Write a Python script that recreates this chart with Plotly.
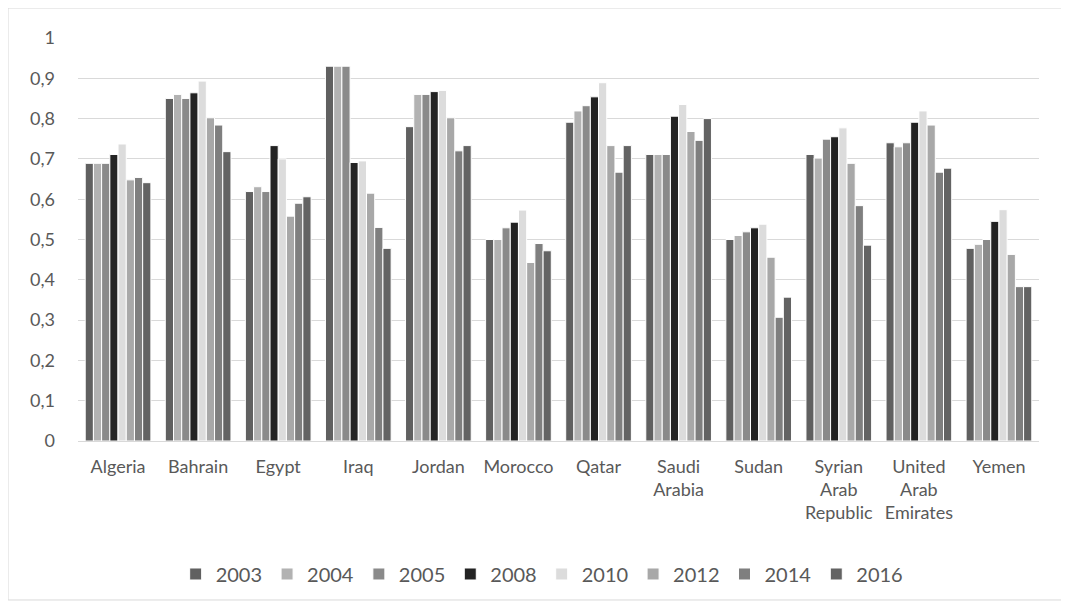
import plotly.graph_objects as go

countries = ["Algeria", "Bahrain", "Egypt", "Iraq", "Jordan", "Morocco", "Qatar",
             "Saudi<br>Arabia", "Sudan", "Syrian<br>Arab<br>Republic",
             "United<br>Arab<br>Emirates", "Yemen"]
years = ["2003", "2004", "2005", "2008", "2010", "2012", "2014", "2016"]

v2003 = [0.689, 0.850, 0.619, 0.930, 0.780, 0.500, 0.791, 0.711, 0.500, 0.711, 0.740, 0.478]
v2004 = [0.689, 0.860, 0.631, 0.930, 0.860, 0.500, 0.819, 0.711, 0.510, 0.702, 0.730, 0.488]
v2005 = [0.689, 0.850, 0.619, 0.930, 0.860, 0.529, 0.832, 0.711, 0.519, 0.749, 0.740, 0.500]
v2008 = [0.711, 0.864, 0.733, 0.691, 0.867, 0.543, 0.854, 0.806, 0.529, 0.755, 0.791, 0.545]
v2010 = [0.737, 0.893, 0.700, 0.695, 0.870, 0.573, 0.889, 0.835, 0.538, 0.777, 0.819, 0.574]
v2012 = [0.648, 0.802, 0.558, 0.615, 0.802, 0.443, 0.733, 0.768, 0.456, 0.689, 0.784, 0.463]
v2014 = [0.654, 0.784, 0.590, 0.530, 0.720, 0.490, 0.667, 0.746, 0.307, 0.584, 0.667, 0.383]
v2016 = [0.641, 0.718, 0.606, 0.478, 0.733, 0.472, 0.733, 0.800, 0.357, 0.486, 0.677, 0.383]

series = [v2003, v2004, v2005, v2008, v2010, v2012, v2014, v2016]
colors = ["#606060", "#B2B2B2", "#8A8A8A", "#232323", "#DCDCDC", "#A8A8A8", "#7F7F7F", "#636363"]

fig = go.Figure()
for name, vals, col in zip(years, series, colors):
    fig.add_trace(go.Bar(x=countries, y=vals, name=name,
                         marker=dict(color=col, line=dict(color="white", width=1))))

font = "Lato, 'Open Sans', sans-serif"
fig.update_layout(
    width=1069, height=609,
    paper_bgcolor="white", plot_bgcolor="white",
    margin=dict(l=70, r=38, t=30, b=176),
    separators=", ",
    barmode="group", bargap=0.18, bargroupgap=0.0,
    font=dict(family=font, size=18, color="#595959"),
    showlegend=True,
    legend=dict(orientation="h", x=0.483, xanchor="center", y=-0.330, yanchor="middle",
                font=dict(size=20, color="#595959"), itemwidth=30, traceorder="normal"),
    xaxis=dict(showgrid=False, showline=True, linecolor="#D9D9D9", linewidth=1,
               ticks="", ticklabelstandoff=9, tickfont=dict(size=18, color="#595959")),
    yaxis=dict(range=[0, 1], dtick=0.1, showgrid=True, gridcolor="#D9D9D9", gridwidth=1,
               zeroline=False, showline=False, ticks="", ticklabelstandoff=22,
               tickfont=dict(size=18, color="#595959")),
    shapes=[dict(type="rect", xref="paper", yref="paper",
                 x0=-0.0728, x1=1.028, y0=-0.3945, y1=1.0744,
                 line=dict(color="#D9D9D9", width=1), fillcolor="rgba(0,0,0,0)", layer="below")],
)

fig.write_html("out.html")
